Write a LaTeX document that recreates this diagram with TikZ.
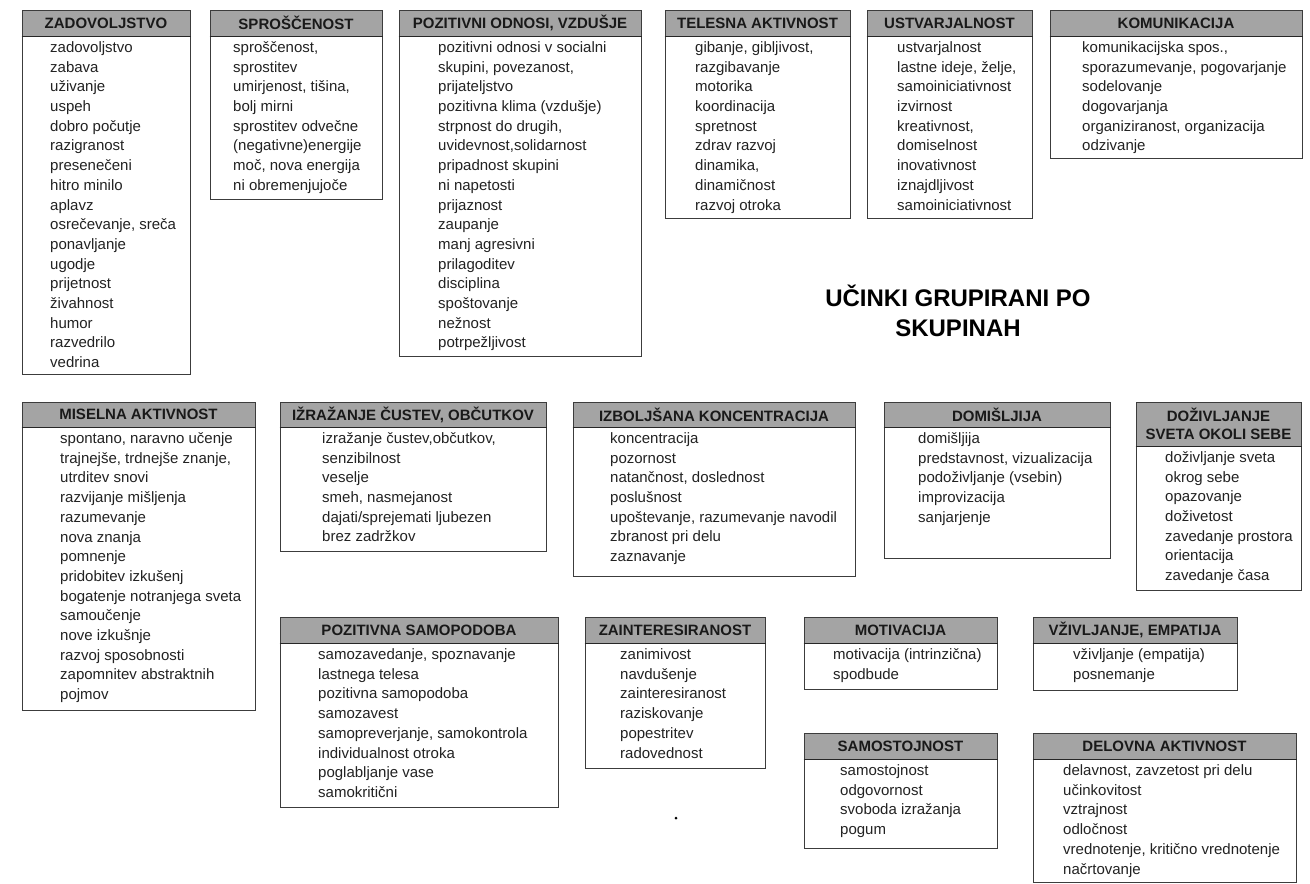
\documentclass[tikz,border=0pt]{standalone}
\usepackage{fontspec}
\setmainfont{Liberation Sans}
\usetikzlibrary{fit}
\definecolor{hdrgray}{HTML}{A4A4A4}
\definecolor{framecol}{HTML}{3C3C3C}
\definecolor{txtcol}{HTML}{222222}
\tikzset{
 frame box/.style={draw=framecol, line width=1pt, fill=white, inner sep=0pt},
 hdr box/.style={draw=framecol, line width=1pt, fill=hdrgray, inner sep=0pt},
 hdr text/.style={inner sep=0pt, align=center, text=black!90, font=\bfseries\fontsize{15}{18}\selectfont},
 hdr rule/.style={draw=black!85, line width=1.6pt},
 body text/.style={anchor=north west, inner sep=0pt, align=left, text=txtcol, font=\fontsize{15}{19.7}\selectfont},
 title text/.style={align=center, font=\bfseries\fontsize{24}{30}\selectfont, text=black},
}
\newcommand{\effbox}[9]{%
  \coordinate (#1-nw) at (#2,#3);
  \coordinate (#1-se) at (#4,#5);
  \coordinate (#1-hse) at (#4,#6);
  \node[frame box, fit=(#1-nw)(#1-se)] (#1) {};
  \node[hdr box, fit=(#1-nw)(#1-hse)] (#1-h) {};
  \node[hdr text] (#1-l) at (#1-h.center) {#8};
  \draw[hdr rule] (#1-h.south west) -- (#1-h.south east);
  \node[body text] (#1-t) at (#7,#6+2.5) {\strut #9};
}
\begin{document}
\begin{tikzpicture}[x=1pt,y=-1pt]
\fill[white] (0,0) rectangle (1310,884);
\useasboundingbox (0,0) rectangle (1310,884);

% Row 1
\effbox{zad}{22}{10}{190}{374}{36}{50}{ZADOVOLJSTVO}{zadovoljstvo\\zabava\\uživanje\\uspeh\\dobro počutje\\razigranost\\presenečeni\\hitro minilo\\aplavz\\osrečevanje, sreča\\ponavljanje\\ugodje\\prijetnost\\živahnost\\humor\\razvedrilo\\vedrina}
\effbox{spr}{210}{10}{382}{199}{36}{233}{SPROŠČENOST}{sproščenost,\\sprostitev\\umirjenost, tišina,\\bolj mirni\\sprostitev odvečne\\(negativne)energije\\moč, nova energija\\ni obremenjujoče}
\effbox{poz}{399}{10}{641}{356}{36}{438}{POZITIVNI ODNOSI, VZDUŠJE}{pozitivni odnosi v socialni\\skupini, povezanost,\\prijateljstvo\\pozitivna klima (vzdušje)\\strpnost do drugih,\\uvidevnost,solidarnost\\pripadnost skupini\\ni napetosti\\prijaznost\\zaupanje\\manj agresivni\\prilagoditev\\disciplina\\spoštovanje\\nežnost\\potrpežljivost}
\effbox{tel}{665}{10}{850}{218}{36}{695}{TELESNA AKTIVNOST}{gibanje, gibljivost,\\razgibavanje\\motorika\\koordinacija\\spretnost\\zdrav razvoj\\dinamika,\\dinamičnost\\razvoj otroka}
\effbox{ust}{867}{10}{1032}{218}{36}{897}{USTVARJALNOST}{ustvarjalnost\\lastne ideje, želje,\\samoiniciativnost\\izvirnost\\kreativnost,\\domiselnost\\inovativnost\\iznajdljivost\\samoiniciativnost}
\effbox{kom}{1050}{10}{1302}{158}{36}{1082}{KOMUNIKACIJA}{komunikacijska spos.,\\sporazumevanje, pogovarjanje\\sodelovanje\\dogovarjanja\\organiziranost, organizacija\\odzivanje}

% Title
\node[title text] (title) at (958,311) {UČINKI GRUPIRANI PO\\SKUPINAH};

% Row 2
\effbox{mis}{22}{402}{255}{710}{427}{60}{MISELNA AKTIVNOST}{spontano, naravno učenje\\trajnejše, trdnejše znanje,\\utrditev snovi\\razvijanje mišljenja\\razumevanje\\nova znanja\\pomnenje\\pridobitev izkušenj\\bogatenje notranjega sveta\\samoučenje\\nove izkušnje\\razvoj sposobnosti\\zapomnitev abstraktnih\\pojmov}
\effbox{izr}{280}{402}{546}{551}{427}{322}{IŽRAŽANJE ČUSTEV, OBČUTKOV}{izražanje čustev,občutkov,\\senzibilnost\\veselje\\smeh, nasmejanost\\dajati/sprejemati ljubezen\\brez zadržkov}
\effbox{izb}{573}{402}{855}{576}{427}{610}{IZBOLJŠANA KONCENTRACIJA}{koncentracija\\pozornost\\natančnost, doslednost\\poslušnost\\upoštevanje, razumevanje navodil\\zbranost pri delu\\zaznavanje}
\effbox{dom}{884}{402}{1110}{558}{427}{918}{DOMIŠLJIJA}{domišljija\\predstavnost, vizualizacija\\podoživljanje (vsebin)\\improvizacija\\sanjarjenje}
\effbox{doz}{1136}{402}{1301}{590}{446}{1165}{DOŽIVLJANJE\\SVETA OKOLI SEBE}{doživljanje sveta\\okrog sebe\\opazovanje\\doživetost\\zavedanje prostora\\orientacija\\zavedanje časa}

% Row 3
\effbox{sam}{280}{617}{558}{807}{643}{318}{POZITIVNA SAMOPODOBA}{samozavedanje, spoznavanje\\lastnega telesa\\pozitivna samopodoba\\samozavest\\samopreverjanje, samokontrola\\individualnost otroka\\poglabljanje vase\\samokritični}
\effbox{zai}{585}{617}{765}{768}{643}{620}{ZAINTERESIRANOST}{zanimivost\\navdušenje\\zainteresiranost\\raziskovanje\\popestritev\\radovednost}
\effbox{mot}{804}{617}{997}{689}{643}{833}{MOTIVACIJA}{motivacija (intrinzična)\\spodbude}
\effbox{vzi}{1033}{617}{1237}{690}{643}{1073}{VŽIVLJANJE, EMPATIJA}{vživljanje (empatija)\\posnemanje}
\effbox{sst}{804}{733}{997}{848}{759}{840}{SAMOSTOJNOST}{samostojnost\\odgovornost\\svoboda izražanja\\pogum}
\effbox{del}{1033}{733}{1296}{882}{759}{1063}{DELOVNA AKTIVNOST}{delavnost, zavzetost pri delu\\učinkovitost\\vztrajnost\\odločnost\\vrednotenje, kritično vrednotenje\\načrtovanje}

\node[circle, fill=black, inner sep=0pt, minimum size=3pt] (dot) at (676,818) {};
\end{tikzpicture}
\end{document}
